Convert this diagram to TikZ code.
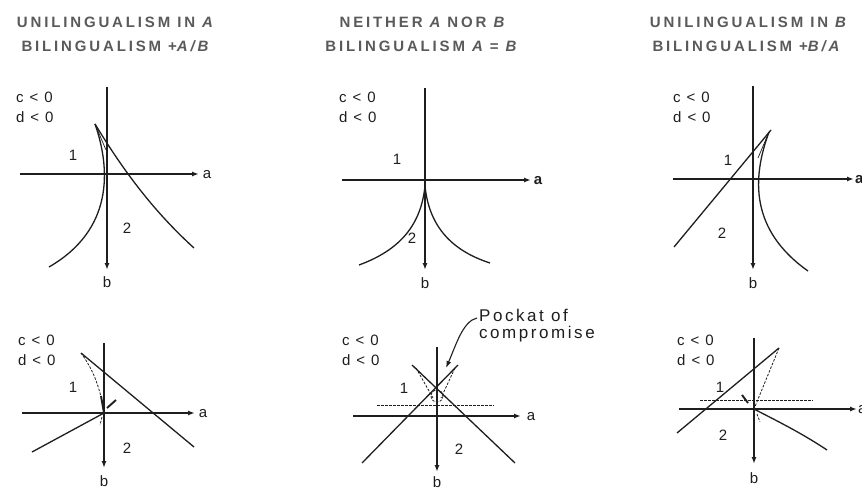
\documentclass[tikz,border=0pt]{standalone}
\usepackage{fontspec}
\setmainfont{Liberation Sans}
\newfontfamily\titlefont[LetterSpace=19]{Liberation Sans}
\newfontfamily\labfont[LetterSpace=12]{Liberation Sans}
\newfontfamily\pkfont[LetterSpace=15]{Liberation Sans}
\usetikzlibrary{arrows.meta}
\definecolor{ink}{HTML}{1E1E1E}
\definecolor{ttl}{HTML}{5A5A5A}
\tikzset{
  ttlnode/.style={inner sep=0pt, text=ttl, font=\titlefont\bfseries\fontsize{15}{16}\selectfont},
  cond/.style={inner sep=0pt, anchor=west, text=ink, align=left, font=\labfont\fontsize{15}{20}\selectfont},
  lbl/.style={inner sep=0pt, text=ink, font=\labfont\fontsize{15}{17}\selectfont},
  axis/.style={draw=ink, line width=1.4pt, -{Latex[length=7pt,width=5pt]}},
  crv/.style={draw=ink, line width=1.3pt},
  thin/.style={draw=ink, line width=0.7pt},
  dsh/.style={draw=ink, line width=0.8pt, dash pattern=on 2.5pt off 1.5pt},
  tick/.style={draw=ink, line width=1.9pt}
}
\begin{document}
\begin{tikzpicture}[x=1pt,y=-1pt]
\useasboundingbox (0,0) rectangle (862,489);
\fill[white] (0,0) rectangle (862,489);

% ---------- titles ----------
\node[ttlnode] (t1a) at (115,22) {UNILINGUALISM IN {\itshape A}};
\node[ttlnode] (t1b) at (115,46) {BILINGUALISM +{\itshape A/B}};
\node[ttlnode] (t2a) at (422,22) {NEITHER {\itshape A} NOR {\itshape B}};
\node[ttlnode] (t2b) at (421,46) {BILINGUALISM {\itshape A} = {\itshape B}};
\node[ttlnode] (t3a) at (748,22) {UNILINGUALISM IN {\itshape B}};
\node[ttlnode] (t3b) at (746,46) {BILINGUALISM +{\itshape B/A}};

% ---------- panel 1 ----------
\node[cond] (c1) at (16,107) {c < 0\\d < 0};
\coordinate (v1s) at (107,87); \coordinate (v1e) at (107,270);
\coordinate (h1s) at (20,174); \coordinate (h1e) at (199,174);
\draw[axis] (v1s) -- (v1e);
\draw[axis] (h1s) -- (h1e);
\node[lbl] (a1) at (207,175) {a};
\node[lbl] (b1) at (107,282) {b};
\node[lbl] (n11) at (73,155) {1};
\node[lbl] (n12) at (127,228) {2};
\coordinate (k1) at (95,124);
\draw[crv] (k1) .. controls (111,170) and (113,230) .. (49,267);
\draw[crv] (k1) .. controls (120,165) and (150,208) .. (194,248);
\draw[thin] (k1) -- (106,150);

% ---------- panel 2 ----------
\node[cond] (c2) at (339,107) {c < 0\\d < 0};
\coordinate (v2s) at (425,88); \coordinate (v2e) at (425,270);
\coordinate (h2s) at (342,180); \coordinate (h2e) at (531,180);
\draw[axis] (v2s) -- (v2e);
\draw[axis] (h2s) -- (h2e);
\node[lbl, font=\bfseries\fontsize{15}{17}\selectfont] (a2) at (538,181) {a};
\node[lbl] (b2) at (425,283) {b};
\node[lbl] (n21) at (397,159) {1};
\node[lbl] (n22) at (412,238) {2};
\coordinate (k2) at (425,186);
\draw[crv] (k2) .. controls (421,225) and (400,250) .. (359,265);
\draw[crv] (k2) .. controls (429,225) and (450,250) .. (490,263);

% ---------- panel 3 ----------
\node[cond] (c3) at (673,107) {c < 0\\d < 0};
\coordinate (v3s) at (753,86); \coordinate (v3e) at (753,270);
\coordinate (h3s) at (673,179); \coordinate (h3e) at (854,179);
\draw[axis] (v3s) -- (v3e);
\draw[axis] (h3s) -- (h3e);
\node[lbl, anchor=west, font=\bfseries\fontsize{15}{17}\selectfont] (a3) at (855,180) {a};
\node[lbl] (b3) at (753,283) {b};
\node[lbl] (n31) at (728,160) {1};
\node[lbl] (n32) at (722,233) {2};
\coordinate (k3) at (769,132);
\draw[crv] (674,247) -- (771,130);
\draw[crv] (k3) .. controls (752,178) and (750,230) .. (808,271);
\draw[thin] (k3) -- (758,158);

% ---------- panel 4 ----------
\node[cond] (c4) at (18,350) {c < 0\\d < 0};
\coordinate (v4s) at (104,343); \coordinate (v4e) at (104,468);
\coordinate (h4s) at (22,413); \coordinate (h4e) at (195,413);
\draw[axis] (v4s) -- (v4e);
\draw[axis] (h4s) -- (h4e);
\node[lbl] (a4) at (203,414) {a};
\node[lbl] (b4) at (104,481) {b};
\node[lbl] (n41) at (73,387) {1};
\node[lbl] (n42) at (127,448) {2};
\coordinate (o4) at (104,413);
\draw[crv] (81,353) -- (194,447);
\draw[dsh] (81,353) .. controls (95,372) and (101,392) .. (o4);
\draw[tick] (101,396) -- (o4);
\draw[crv] (32,452) -- (o4);
\draw[tick] (107,408) -- (116,400);
\draw[dsh] (102,417) -- (100,425);

% ---------- panel 5 ----------
\node[cond] (c5) at (342,350) {c < 0\\d < 0};
\coordinate (v5s) at (437,347); \coordinate (v5e) at (437,472);
\coordinate (h5s) at (353,416); \coordinate (h5e) at (521,416);
\draw[axis] (v5s) -- (v5e);
\draw[axis] (h5s) -- (h5e);
\node[lbl] (a5) at (531,417) {a};
\node[lbl] (b5) at (437,482) {b};
\node[lbl] (n51) at (404,388) {1};
\node[lbl] (n52) at (459,449) {2};
\draw[dsh] (377,405) -- (494,405);
\draw[crv] (362,463) -- (458,365);
\draw[crv] (412,365) -- (515,463);
\draw[dsh] (416,368) -- (433,398);
\draw[dsh] (455,368) -- (441,398);
\draw[dsh] (437,396) circle (6);
\node[lbl, anchor=west, align=left, font=\pkfont\fontsize{17}{17}\selectfont] (pk) at (479,326) {Pockat of\\compromise};
\coordinate (pa) at (446,368);
\draw[draw=ink, line width=1.1pt, -{Latex[length=7pt,width=5pt]}] (477,318) .. controls (463,321) and (456,345) .. (pa);

% ---------- panel 6 ----------
\node[cond] (c6) at (677,350) {c < 0\\d < 0};
\coordinate (v6s) at (754,338); \coordinate (v6e) at (754,464);
\coordinate (h6s) at (679,409); \coordinate (h6e) at (857,409);
\draw[axis] (v6s) -- (v6e);
\draw[axis] (h6s) -- (h6e);
\node[lbl, anchor=west] (a6) at (858,410) {a};
\node[lbl] (b6) at (754,478) {b};
\node[lbl] (n61) at (720,387) {1};
\node[lbl] (n62) at (723,435) {2};
\coordinate (o6) at (754,409);
\draw[dsh] (700,400) -- (813,400);
\draw[crv] (677,433) -- (779,348);
\draw[dsh] (779,348) -- (o6);
\draw[tick] (742,395) -- (748,403);
\draw[crv] (o6) .. controls (775,420) and (800,432) .. (827,450);
\draw[dsh] (757,414) -- (760,422);
\end{tikzpicture}
\end{document}
